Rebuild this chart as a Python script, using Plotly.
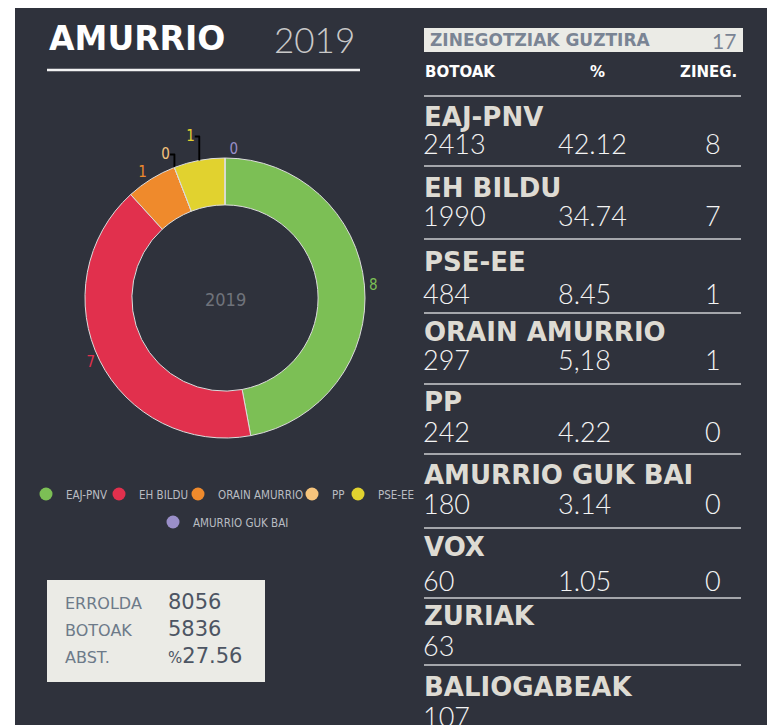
import plotly.graph_objects as go

# The page body has an 8px default margin, so the figure is drawn 8px in from
# the window's top-left corner; the figure is sized to fill the rest.
OFF = 8
W, H = 775 - OFF, 725 - OFF

# ---------------- data ----------------
municipality = "AMURRIO"
year = "2019"
total_seats = 17

pie_parties = ["EAJ-PNV", "EH BILDU", "ORAIN AMURRIO", "PP", "PSE-EE", "AMURRIO GUK BAI"]
pie_seats = [8, 7, 1, 0, 1, 0]
pie_colors = ["#7cbf55", "#e1304d", "#ef8a2c", "#f6c47c", "#e1d22f", "#9a8fc9"]

table_names = ["EAJ-PNV", "EH BILDU", "PSE-EE", "ORAIN AMURRIO", "PP",
               "AMURRIO GUK BAI", "VOX", "ZURIAK", "BALIOGABEAK"]
table_votes = ["2413", "1990", "484", "297", "242", "180", "60", "63", "107"]
table_pct = ["42.12", "34.74", "8.45", "5,18", "4.22", "3.14", "1.05", "", ""]
table_seats = ["8", "7", "1", "1", "0", "0", "0", "", ""]

header_cols = ["BOTOAK", "%", "ZINEG."]
total_label = "ZINEGOTZIAK GUZTIRA"

summary_labels = ["ERROLDA", "BOTOAK", "ABST."]
summary_values = ["8056", "5836", "27.56"]

# ---------------- layout helpers (window pixel -> paper) ----------------
def px(x):
    return (x - OFF) / W

def py(y):
    return 1 - (y - OFF) / H

BG = "#2f323c"
BOLD = "DejaVu Sans"
LIGHT = "Lato"
COND = "Liberation Sans Narrow, DejaVu Sans Condensed, Roboto, sans-serif"

name_y = [117, 188, 262, 332, 402, 475, 547, 616, 687]
num_y = [143, 215, 293, 360, 431, 503, 580, 645, 716]
line_y = [96, 166, 239, 313, 384, 454, 528, 598, 665]

# legend item positions (circle centre x, row y) - layout only
legend_pos = [(43, 494), (116, 494), (195, 494), (309, 494), (355, 494), (170, 522)]

fig = go.Figure()

# donut
cx, cy, r = 225, 298, 140
fig.add_trace(go.Pie(
    labels=pie_parties, values=pie_seats, sort=False, direction="clockwise",
    rotation=0, hole=0.665,
    marker=dict(colors=pie_colors, line=dict(color="#dcdcdc", width=1)),
    texttemplate="%{value}", textposition="outside",
    textfont=dict(family=COND, size=15, color=pie_colors),
    domain=dict(x=[px(cx - r), px(cx + r)], y=[py(cy + r), py(cy - r)]),
    showlegend=False, hoverinfo="skip",
))

# legend entries (circle symbols), one legend per entry
legend_font = dict(family=COND, size=11.5, color="#b9bcc2")
legend_layouts = {}
for i, (name, col) in enumerate(zip(pie_parties, pie_colors)):
    lname = "legend" if i == 0 else f"legend{i + 1}"
    fig.add_trace(go.Scatter(
        x=[None], y=[None], mode="markers", name=name,
        marker=dict(color=col, size=13, symbol="circle"),
        legend=lname, hoverinfo="skip",
    ))
    lx, ly = legend_pos[i]
    legend_layouts[lname] = dict(orientation="h", x=px(lx - 17), xanchor="left",
                                 y=py(ly), yanchor="middle", font=legend_font,
                                 bgcolor="rgba(0,0,0,0)", itemclick=False,
                                 itemdoubleclick=False)

shapes = []
ann = []

# dark panel
shapes.append(dict(type="rect", xref="paper", yref="paper", layer="below",
                   x0=px(15), x1=px(768), y0=py(725), y1=py(7),
                   fillcolor=BG, line=dict(width=0)))

# title
ann.append(dict(x=px(47), y=py(38), text=f"<b>{municipality}</b>", xanchor="left", yanchor="middle",
                font=dict(family=BOLD, size=33, color="#ffffff")))
ann.append(dict(x=px(272), y=py(39), text=year, xanchor="left", yanchor="middle",
                font=dict(family=LIGHT, size=35, color="#c9c9c9", weight=300)))
shapes.append(dict(type="line", xref="paper", yref="paper", x0=px(47), x1=px(360),
                   y0=py(70), y1=py(70), line=dict(color="#f2f2f2", width=2.5)))

# center label
ann.append(dict(x=px(cx), y=py(cy + 2), text=year, xanchor="center", yanchor="middle",
                font=dict(family=COND, size=18, color="#6f737b")))

# summary box
shapes.append(dict(type="rect", xref="paper", yref="paper", x0=px(47), x1=px(265),
                   y0=py(682), y1=py(580), fillcolor="#ebebe6", line=dict(width=0)))
for lab, val, yy in zip(summary_labels, summary_values, [603, 630, 657]):
    ann.append(dict(x=px(63), y=py(yy), text=lab, xanchor="left", yanchor="middle",
                    font=dict(family="DejaVu Sans", size=16, color="#6d7a89")))
    txt = val if lab != "ABST." else f"<span style='font-size:15px'>%</span>{val}"
    ann.append(dict(x=px(166), y=py(yy - 1), text=txt, xanchor="left", yanchor="middle",
                    font=dict(family="DejaVu Sans", size=21, color="#4d5563")))

# header box
shapes.append(dict(type="rect", xref="paper", yref="paper", x0=px(424), x1=px(743),
                   y0=py(52), y1=py(28), fillcolor="#ebebe6", line=dict(width=0)))
ann.append(dict(x=px(428), y=py(40), text=f"<b>{total_label}</b>", xanchor="left", yanchor="middle",
                font=dict(family=BOLD, size=17, color="#7a8494")))
ann.append(dict(x=px(738), y=py(40), text=str(total_seats), xanchor="right", yanchor="middle",
                font=dict(family=LIGHT, size=21, color="#7a8494")))

# column headers
ann.append(dict(x=px(423), y=py(72), text=f"<b>{header_cols[0]}</b>", xanchor="left", yanchor="middle",
                font=dict(family=BOLD, size=15, color="#ffffff")))
ann.append(dict(x=px(597), y=py(72), text=f"<b>{header_cols[1]}</b>", xanchor="center", yanchor="middle",
                font=dict(family=BOLD, size=15, color="#ffffff")))
ann.append(dict(x=px(739), y=py(72), text=f"<b>{header_cols[2]}</b>", xanchor="right", yanchor="middle",
                font=dict(family=BOLD, size=15, color="#ffffff")))

# table rows
for ly in line_y:
    shapes.append(dict(type="line", xref="paper", yref="paper", x0=px(424), x1=px(741),
                       y0=py(ly), y1=py(ly), line=dict(color="#a4a6ab", width=2)))
for name, v, p, s, ny, vy in zip(table_names, table_votes, table_pct, table_seats, name_y, num_y):
    ann.append(dict(x=px(422), y=py(ny), text=f"<b>{name}</b>", xanchor="left", yanchor="middle",
                    font=dict(family=BOLD, size=26, color="#dedbd3")))
    ann.append(dict(x=px(421), y=py(vy), text=v, xanchor="left", yanchor="middle",
                    font=dict(family=LIGHT, size=27, color="#f4f4f4", weight=300)))
    if p:
        ann.append(dict(x=px(556), y=py(vy), text=p, xanchor="left", yanchor="middle",
                        font=dict(family=LIGHT, size=27, color="#f4f4f4", weight=300)))
    if s:
        ann.append(dict(x=px(713), y=py(vy), text=s, xanchor="center", yanchor="middle",
                        font=dict(family=LIGHT, size=27, color="#f4f4f4", weight=300)))

for a in ann:
    a.update(xref="paper", yref="paper", showarrow=False)

fig.update_layout(
    width=W, height=H,
    margin=dict(l=0, r=0, t=0, b=0, autoexpand=False),
    paper_bgcolor="#ffffff", plot_bgcolor="rgba(0,0,0,0)",
    xaxis=dict(visible=False), yaxis=dict(visible=False),
    shapes=shapes, annotations=ann,
    **legend_layouts,
)

fig.write_html("out.html")
